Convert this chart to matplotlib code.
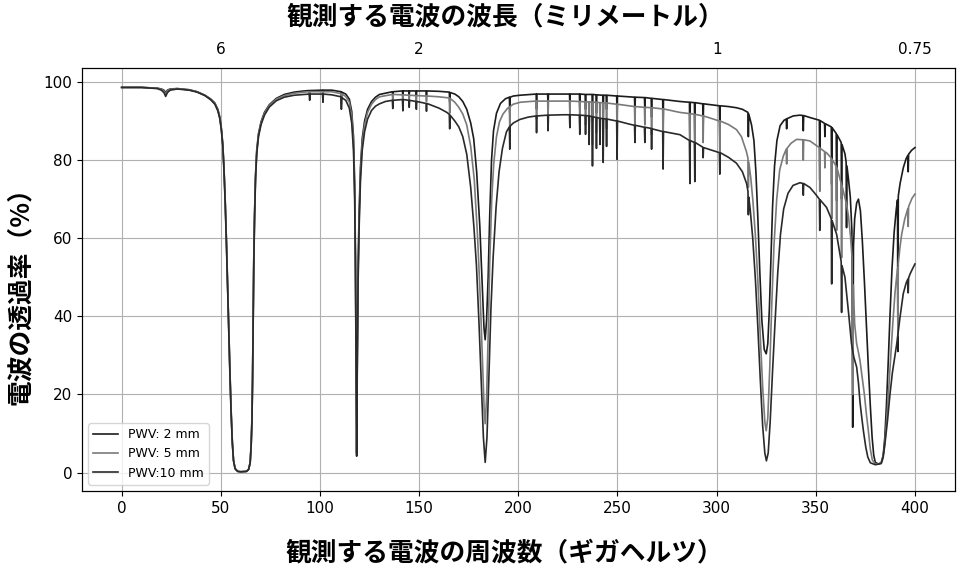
import numpy as np
import matplotlib
matplotlib.use("Agg")
import matplotlib.pyplot as plt

# transmission (%), (frequency GHz, value) pairs
pwv2 = [(0, 98.6), (10, 98.6), (18, 98.4), (20, 98.2), (21.3, 97.9), (22.2, 97.3), (23.1, 97.9), (24.5, 98.2),
        (28, 98.3), (34, 98.0), (38, 97.5), (42, 96.6), (45, 95.6), (47, 94.6), (48.5, 93.0), (49.5, 91),
        (50.3, 88), (51, 84), (51.6, 78), (52.2, 70), (52.8, 60), (53.4, 48.5), (54, 37), (54.6, 26),
        (55.2, 16), (55.8, 8), (56.4, 3.2), (57.2, 1.0), (58.5, 0.3), (60, 0.2), (63, 0.3), (64, 0.8),
        (64.8, 2.5), (65.3, 7), (65.7, 14), (66, 24), (66.3, 40), (66.6, 54), (67, 66), (67.5, 76),
        (68.1, 82.5), (69, 86.8), (70.3, 89.8), (72, 92.2), (74.5, 94.2), (78, 95.8), (82, 96.8), (87, 97.4),
        (92, 97.7), (94.6, 97.8), (94.8, 97.0), (95.0, 97.8), (101.3, 97.9), (101.5, 96.5), (101.7, 97.9),
        (106, 97.9), (110.6, 97.5), (110.8, 95.5), (111.0, 97.4), (113, 96.9), (114.8, 95.6), (116, 92.5),
        (116.9, 86), (117.5, 74), (117.9, 55), (118.2, 32), (118.5, 5), (118.8, 30), (119.2, 52),
        (119.7, 66), (120.4, 78), (121.3, 85.5), (122.5, 90), (124, 93), (126, 95), (128, 96.1), (130, 96.8),
        (136.5, 97.5), (136.7, 96.5), (136.9, 97.5), (141.6, 97.7), (141.8, 95.8), (142.0, 97.7),
        (144.8, 97.7), (145, 96.8), (145.2, 97.7), (148.4, 97.7), (148.6, 96.6), (148.8, 97.7),
        (153.5, 97.7), (153.7, 96.5), (153.9, 97.7), (160, 97.6), (165.2, 97.4), (165.4, 95), (165.6, 97.3),
        (168, 96.9), (170, 96.2), (172, 95.0), (174, 93.0), (176, 89.5), (177.5, 85.5), (179, 77),
        (180.6, 63), (181.8, 48), (182.7, 37), (183.3, 34), (184, 39), (184.8, 50), (185.6, 66), (186.5, 80),
        (187.5, 87.5), (189, 92), (191, 94.5), (193.5, 95.7), (195.5, 96.1), (195.7, 92), (195.9, 96.1),
        (197.5, 96.4), (200.8, 96.6), (209, 96.9), (209.2, 93), (209.4, 96.9), (214.8, 96.9), (215, 94),
        (215.2, 96.9), (225.8, 96.9), (226, 94.5), (226.2, 96.9), (230.8, 96.9), (231, 93.5), (231.2, 96.9),
        (233.7, 96.8), (233.9, 93), (234.1, 96.8), (237.2, 96.8), (237.4, 90), (237.6, 96.8), (239.2, 96.7),
        (239.4, 92), (239.6, 96.7), (242.6, 96.6), (242.8, 90), (243, 96.6), (244.3, 96.6), (244.5, 93),
        (244.7, 96.6), (249.6, 96.4), (249.8, 91), (250, 96.4), (258.6, 96.1), (258.8, 92), (259, 96.1),
        (263.6, 96.0), (263.8, 93), (264, 96.0), (267, 95.8), (267.2, 91), (267.4, 95.8), (272.8, 95.5),
        (273, 88), (273.2, 95.5), (281.5, 95.0), (286.3, 94.8), (286.5, 84), (286.7, 94.8), (288.8, 94.7),
        (289, 85), (289.2, 94.7), (293, 94.4), (293.2, 89), (293.4, 94.4), (301.4, 93.9), (301.6, 86),
        (301.8, 93.9), (306, 93.7), (310, 93.4), (313, 93.0), (315.8, 92.2), (316, 86), (316.2, 91.8),
        (317.6, 89), (318.8, 85), (319.8, 77), (320.8, 65), (321.8, 51), (322.8, 39), (324, 31.5),
        (325, 30.4), (325.8, 33), (326.6, 42), (327.4, 55), (328.2, 68), (329.2, 78.5), (330.4, 85),
        (332, 88.8), (334, 90.2), (335.1, 90.5), (335.3, 88), (335.5, 90.6), (338.6, 91.3), (342, 91.5),
        (343.5, 91.4), (343.7, 87.5), (343.9, 91.4), (347, 90.9), (351.8, 90.2), (352, 75), (352.2, 90.1),
        (353.8, 89.6), (354.4, 89.4), (354.6, 86), (354.8, 89.3), (357.8, 88.5), (358, 73.8), (358.2, 88.3),
        (360.3, 86.8), (360.5, 69.6), (360.7, 86.5), (362.8, 84.5), (363, 70), (363.2, 84), (364.7, 81.6),
        (365.3, 79.5), (365.5, 62.7), (365.7, 78.5), (366.5, 75), (367.4, 70.5), (368.2, 62), (368.6, 11.6),
        (369, 58), (369.6, 65), (370.6, 69), (371.5, 70), (372.5, 67), (373.5, 59), (374.5, 49),
        (375.5, 38), (376.5, 27), (377.5, 17), (378.4, 9), (379.2, 4.5), (380, 2.6), (381.5, 2.2),
        (383, 2.5), (384, 4.5), (384.8, 9), (385.6, 17), (386.5, 28), (387.4, 40), (388.4, 52),
        (389.5, 61.5), (390.6, 67.5), (391.2, 69.8), (391.4, 31), (391.6, 70.8), (392.5, 74), (394.1, 78),
        (395.5, 80.3), (396.4, 81.2), (396.6, 77), (396.8, 81.5), (398.3, 82.5), (400, 83.2)]

pwv5 = [(0, 98.6), (10, 98.6), (18, 98.4), (20, 98.1), (21.3, 97.7), (22.2, 96.9), (23.1, 97.7), (24.5, 98.1),
        (28, 98.3), (34, 98.0), (38, 97.5), (42, 96.6), (45, 95.5), (47, 94.5), (48.5, 92.8), (49.5, 90.8),
        (50.3, 87.8), (51, 83.8), (51.6, 77.6), (52.2, 69.5), (52.8, 59.5), (53.4, 48), (54, 36.5),
        (54.6, 25.5), (55.2, 15.5), (55.8, 7.8), (56.4, 3.1), (57.2, 1.0), (58.5, 0.3), (60, 0.2), (63, 0.3),
        (64, 0.8), (64.8, 2.5), (65.3, 7), (65.7, 13.5), (66, 23.5), (66.3, 39), (66.6, 53), (67, 65.3),
        (67.5, 75.5), (68.1, 82), (69, 86.4), (70.3, 89.5), (72, 91.9), (74.5, 94), (78, 95.6), (82, 96.5),
        (87, 97.1), (92, 97.4), (94.6, 97.5), (94.8, 96.3), (95.0, 97.5), (101.3, 97.5), (101.5, 95.8),
        (101.7, 97.5), (106, 97.5), (110.6, 97.0), (110.8, 94.3), (111.0, 96.9), (113, 96.3), (114.8, 94.8),
        (116, 91.3), (116.9, 84.5), (117.5, 72), (117.9, 53), (118.2, 30), (118.5, 4.3), (118.8, 28),
        (119.2, 50), (119.7, 64), (120.4, 76.5), (121.3, 84.3), (122.5, 89), (124, 92.2), (126, 94.3),
        (128, 95.5), (130, 96.2), (136.5, 96.8), (136.7, 95.2), (136.9, 96.8), (141.6, 96.7), (141.8, 94.2),
        (142.0, 96.7), (144.8, 96.6), (145, 95.4), (145.2, 96.6), (148.4, 96.5), (148.6, 95.0), (148.8, 96.5),
        (153.5, 96.4), (153.7, 95.0), (153.9, 96.4), (160, 96.2), (165.2, 95.9), (165.4, 92), (165.6, 95.8),
        (168, 94.8), (170, 93.5), (172, 91.8), (174, 89), (176, 83.5), (177.8, 75), (179.4, 61), (180.8, 45),
        (182, 28), (182.8, 16), (183.3, 12.5), (184, 19), (184.8, 35), (185.6, 54), (186.6, 70), (187.6, 79),
        (189, 86), (190.5, 89.8), (192.3, 91.8), (194.5, 93.2), (195.5, 93.6), (195.7, 88), (195.9, 93.7),
        (197.4, 94.3), (201, 94.8), (205.8, 95.0), (209, 95.1), (209.2, 90.5), (209.4, 95.1), (214.8, 95.1),
        (215, 91), (215.2, 95.1), (225.8, 95.1), (226, 91.5), (226.2, 95.1), (230.8, 95.0), (231, 89.5),
        (231.2, 95.0), (233.7, 94.9), (233.9, 89), (234.1, 94.9), (235.5, 94.9), (235.7, 88), (235.9, 94.9),
        (237.2, 94.8), (237.4, 84), (237.6, 94.8), (239.2, 94.8), (239.4, 87), (239.6, 94.8), (241, 94.7),
        (241.2, 88), (241.4, 94.7), (242.6, 94.7), (242.8, 84.5), (243, 94.7), (244.3, 94.6), (244.5, 88),
        (244.7, 94.6), (249.6, 94.3), (249.8, 85.5), (250, 94.3), (258.6, 93.7), (258.8, 88), (259, 93.7),
        (263.6, 93.5), (263.8, 89), (264, 93.5), (267, 93.4), (267.2, 86.5), (267.4, 93.4), (272.8, 93.1),
        (273, 82.5), (273.2, 93.1), (281.5, 92.2), (286.3, 91.9), (286.5, 79), (286.7, 91.9), (288.8, 91.7),
        (289, 80), (289.2, 91.7), (293, 91.3), (293.2, 84.5), (293.4, 91.3), (301.4, 90.0), (301.6, 80),
        (301.8, 90.0), (306, 89.1), (310, 87.8), (312.5, 86), (315, 82.2), (315.8, 80.5), (316, 73),
        (316.2, 79.5), (317.2, 75.5), (318.3, 69.5), (319.5, 61), (320.8, 49), (322, 35), (323.2, 22),
        (324.3, 13), (325, 10.7), (325.8, 14), (326.8, 27), (327.8, 43), (328.9, 58), (330.3, 70),
        (331.8, 77.5), (333.6, 81), (335.1, 82.8), (335.3, 79), (335.5, 83), (337.5, 84.3), (340.3, 85.3),
        (343.5, 85.2), (343.7, 80), (343.9, 85.2), (347, 84.9), (351.8, 83.2), (352, 72), (352.2, 83.0),
        (354.4, 82.2), (354.6, 78), (354.8, 82.0), (355.4, 81.9), (357.8, 80.5), (358, 65), (358.2, 80.2),
        (360.3, 78.4), (360.5, 62), (360.7, 78.0), (362.8, 74), (363, 55), (363.2, 73.5), (364.5, 70.8),
        (365.5, 68.7), (366.5, 65.5), (367.5, 60.5), (368.3, 55), (368.6, 20), (368.9, 48), (369.6, 38),
        (370.6, 33), (371.5, 30.8), (372.3, 28.6), (373.5, 24), (374.5, 20), (375.5, 15), (376.5, 10.7),
        (377.5, 6), (378.5, 3.2), (380, 2.2), (382, 2.2), (383.5, 3), (384.6, 6.5), (385.6, 12.5),
        (386.6, 20), (387.7, 29), (388.8, 38), (389.9, 45.8), (391.2, 52.3), (391.4, 35), (391.6, 53.5),
        (392.4, 57.5), (393.3, 61), (394.8, 64.8), (396.4, 67.6), (396.6, 63), (396.8, 68.1), (398.5, 70.2),
        (400, 71.3)]

pwv10 = [(0, 98.6), (10, 98.6), (18, 98.3), (20, 97.9), (21.3, 97.3), (22.2, 96.3), (23.1, 97.3), (24.5, 97.9),
         (28, 98.2), (34, 97.9), (38, 97.4), (42, 96.5), (45, 95.4), (47, 94.3), (48.5, 92.6), (49.5, 90.6),
         (50.3, 87.6), (51, 83.6), (51.6, 77.3), (52.2, 69), (52.8, 59), (53.4, 47.5), (54, 36), (54.6, 25),
         (55.2, 15), (55.8, 7.6), (56.4, 3.0), (57.2, 1.0), (58.5, 0.3), (60, 0.2), (63, 0.3), (64, 0.8),
         (64.8, 2.5), (65.3, 7), (65.7, 13), (66, 23), (66.3, 38), (66.6, 52), (67, 64.5), (67.5, 75),
         (68.1, 81.5), (69, 86), (70.3, 89.1), (72, 91.5), (74.5, 93.6), (78, 95.2), (82, 96.1), (87, 96.6),
         (92, 96.8), (94.6, 96.9), (94.8, 95.3), (95.0, 96.9), (101.3, 96.9), (101.5, 94.8), (101.7, 96.9),
         (106, 96.7), (110.6, 96.2), (110.8, 93), (111.0, 96.0), (113, 95.3), (114.8, 93.3), (116, 89.5),
         (116.9, 82.5), (117.5, 70), (117.9, 51), (118.2, 28), (118.5, 4.2), (118.8, 26), (119.2, 48),
         (119.7, 62), (120.4, 74.5), (121.3, 82.5), (122.5, 87.3), (124, 90.5), (126, 92.7), (128, 93.8),
         (130, 94.4), (133, 95.0), (136.5, 95.3), (136.7, 93.2), (136.9, 95.3), (141.6, 95.5), (141.8, 92.6),
         (142.0, 95.5), (144.8, 95.3), (145, 93.5), (145.2, 95.3), (148.4, 95.0), (148.6, 93.0), (148.8, 95.0),
         (153.5, 94.5), (153.7, 92.5), (153.9, 94.5), (157, 93.9), (160, 93.3), (164, 92.2), (165.2, 91.7),
         (165.4, 88), (165.6, 91.5), (168, 90), (170, 88.5), (172, 86), (174, 81.5), (176, 73), (177.6, 63),
         (178.9, 53), (180.2, 38), (181.4, 22), (182.4, 9), (183.3, 2.6), (184.2, 9), (185.2, 25), (186.2, 42),
         (187.3, 55), (188.8, 68), (190.3, 77), (192, 83), (194, 87.2), (195.5, 88.5), (195.7, 82.8),
         (195.9, 88.7), (197.5, 89.5), (200.8, 90.4), (205, 91.0), (209, 91.3), (209.2, 87), (209.4, 91.3),
         (214.8, 91.5), (215, 87.5), (215.2, 91.5), (222.6, 91.6), (225.8, 91.6), (226, 88.3), (226.2, 91.6),
         (230.8, 91.5), (231, 86.6), (231.2, 91.5), (233.7, 91.4), (233.9, 86.6), (234.1, 91.4), (235.5, 91.3),
         (235.7, 84), (235.9, 91.3), (237.2, 91.1), (237.4, 78.5), (237.6, 91.1), (239.2, 90.9), (239.4, 83),
         (239.6, 90.9), (241, 90.7), (241.2, 84), (241.4, 90.7), (242.6, 90.6), (242.8, 79.4), (243, 90.6),
         (244.3, 90.5), (244.5, 83.5), (244.7, 90.5), (249.6, 90.0), (249.8, 80.2), (250, 90.0), (256, 89.2),
         (258.6, 88.9), (258.8, 84.5), (259, 88.9), (263.6, 88.4), (263.8, 84.5), (264, 88.4), (267, 88.1),
         (267.2, 82.8), (267.4, 88.0), (271.4, 87.5), (272.8, 87.3), (273, 77.7), (273.2, 87.3), (281.5, 86.5),
         (286.3, 85), (286.5, 74), (286.7, 85), (288.8, 84.5), (289, 74.5), (289.2, 84.5), (293, 83.3),
         (293.2, 80.6), (293.4, 83.2), (301.4, 81.9), (301.6, 76.4), (301.8, 81.9), (306, 80.7), (310, 79.2),
         (313, 77), (315.1, 74), (315.8, 72), (316, 66), (316.2, 70.5), (316.9, 67.5), (318.2, 60),
         (319.6, 49), (320.8, 37), (322, 24), (323.2, 12), (324.3, 5), (325.1, 3), (326, 5), (327, 13),
         (328.2, 26), (329.4, 38), (330.8, 51), (332.2, 61), (333.8, 67.5), (336, 71.5), (338.5, 73.5),
         (342, 74.2), (343.5, 74.0), (343.7, 71), (343.9, 74.0), (347, 73), (350, 71.2), (351.8, 70),
         (352, 62), (352.2, 69.8), (355.4, 67.9), (357.8, 65), (358, 48.3), (358.2, 64.5), (360.5, 61),
         (362.8, 54), (363, 41), (363.2, 53), (364.7, 50), (366.5, 41), (368, 33), (369.2, 29.5),
         (370.6, 27), (371.5, 23), (372.3, 18), (373.2, 14), (374, 10.7), (375.2, 6.5), (376.2, 4),
         (377.5, 2.5), (380, 2.0), (383, 2.3), (384, 4), (385, 8), (386.2, 13.5), (387.4, 20), (388.6, 25.5),
         (389.8, 29.5), (390.8, 32.9), (392.4, 39.5), (394.1, 45.8), (395.6, 48.6), (396.4, 49.5),
         (396.6, 46), (396.8, 49.8), (397.5, 50.8), (398.8, 52.2), (400, 53.4)]

labels = ['PWV: 2 mm', 'PWV: 5 mm', 'PWV:10 mm']
colors = ['#1c1c1c', '#7a7a7a', '#2a2a2a']

wavelength_mm = [6, 2, 1, 0.75]
wavelength_labels = ['6', '2', '1', '0.75']

jp = ['Noto Sans CJK JP', 'DejaVu Sans']

fig = plt.figure(figsize=(9.6, 5.88), dpi=100)
ax = fig.add_axes([0.0854, 0.165, 0.909, 0.719])

for data, lab, c in zip([pwv2, pwv5, pwv10], labels, colors):
    arr = np.array(data)
    ax.plot(arr[:, 0], arr[:, 1], color=c, lw=1.2, label=lab)

ax.set_xticks(np.arange(0, 401, 50))
ax.set_yticks(np.arange(0, 101, 20))
ax.tick_params(labelsize=11)
ax.grid(True, color='#b0b0b0', lw=0.8)
ax.legend(loc='lower left', fontsize=9)

# top axis: wavelength in mm (c / f)
top = ax.twiny()
top.set_xlim(ax.get_xlim())
top.set_xticks([300 / w for w in wavelength_mm])
top.set_xticklabels(wavelength_labels)
top.tick_params(length=0, pad=8, labelsize=11)

fig.text(0.526, 0.971, '観測する電波の波長（ミリメートル）', family=jp, fontsize=18.5,
         fontweight='bold', ha='center', va='center')
fig.text(0.525, 0.06, '観測する電波の周波数（ギガヘルツ）', family=jp, fontsize=18.5,
         fontweight='bold', ha='center', va='center')
fig.text(0.021, 0.507, '電波の透過率（%）', family=jp, fontsize=18.5, fontweight='bold',
         rotation=90, ha='center', va='center')

fig.savefig('out.png', dpi=100)
